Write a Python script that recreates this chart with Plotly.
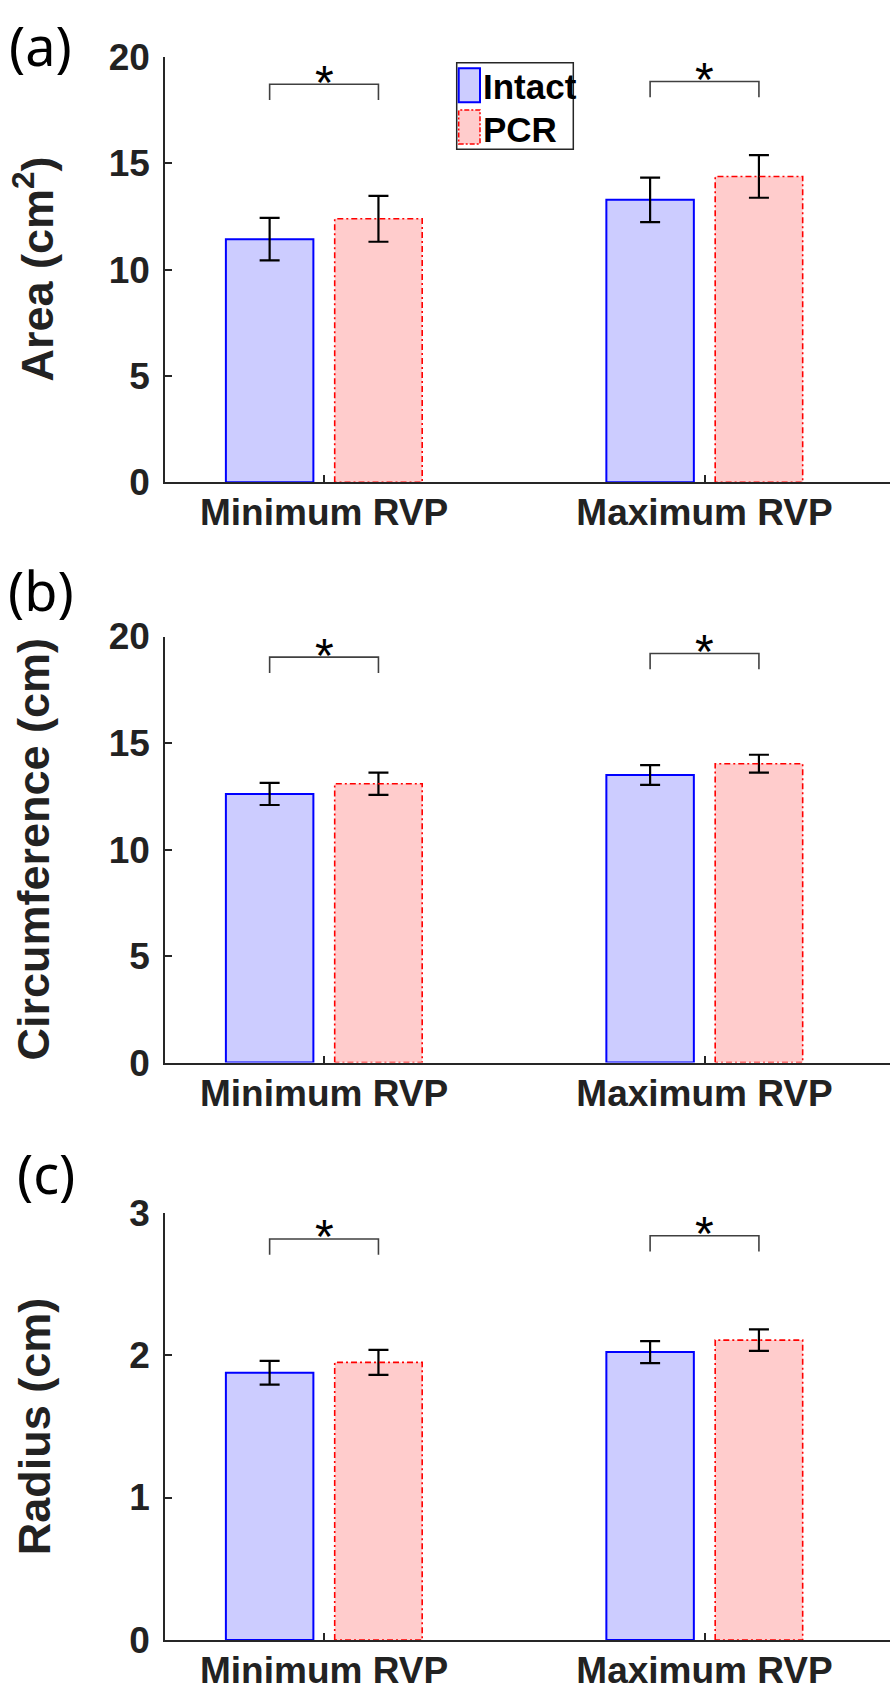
import numpy as np
import plotly.graph_objects as go

# ---------------- data ----------------
categories = ["Minimum RVP", "Maximum RVP"]
groups = ["Intact", "PCR"]

area_intact = [11.43, 13.28]
area_intact_err = [1.00, 1.05]
area_pcr = [12.39, 14.38]
area_pcr_err = [1.08, 1.00]

circ_intact = [12.61, 13.50]
circ_intact_err = [0.52, 0.46]
circ_pcr = [13.09, 14.03]
circ_pcr_err = [0.52, 0.42]

radius_intact = [1.876, 2.021]
radius_intact_err = [0.083, 0.077]
radius_pcr = [1.949, 2.105]
radius_pcr_err = [0.088, 0.075]

area_sig = [18.72, 18.85]
circ_sig = [19.03, 19.20]
radius_sig = [2.815, 2.838]

y_titles = ["Area (cm<sup>2</sup>)", "Circumference (cm)", "Radius (cm)"]
y_max = [20, 20, 3]
y_dtick = [5, 5, 1]
panel_labels = ["(a)", "(b)", "(c)"]

# ---------------- styling / layout ----------------
W, H = 890, 1692
PLOT_LEFT = 165
PLOT_TOPS = [57, 636.5, 1212.6]
PLOT_BOTTOMS = [482.2, 1062.6, 1640]
LABEL_POS = [(40, 45), (41, 590), (46, 1173)]
YTITLE_X = 34

BARGAP = 0.428
GROUPGAP = 0.196
slot = (1 - BARGAP) / 2
OFF = slot / 2
BW = slot * (1 - GROUPGAP)

FONT = "Liberation Sans, Arial, sans-serif"
AXC = "#262626"
INTACT_FILL = "#CCCCFF"
INTACT_EDGE = "#0000FF"
PCR_FILL = "#FFCCCC"
PCR_EDGE = "#FF0000"


def px(x):
    return x / W


def py(y):
    return 1 - y / H


panels = [
    (area_intact, area_intact_err, area_pcr, area_pcr_err, area_sig),
    (circ_intact, circ_intact_err, circ_pcr, circ_pcr_err, circ_sig),
    (radius_intact, radius_intact_err, radius_pcr, radius_pcr_err, radius_sig),
]

fig = go.Figure()
xpos = np.arange(len(categories))
shapes = []
annotations = []

for k, (iv, ie, pv, pe, sig) in enumerate(panels):
    xa = "x" if k == 0 else f"x{k+1}"
    ya = "y" if k == 0 else f"y{k+1}"
    err_style = dict(type="data", visible=True, color="black", thickness=2.2, width=10)
    fig.add_trace(go.Bar(
        x=xpos, y=iv, name=groups[0], xaxis=xa, yaxis=ya,
        marker=dict(color=INTACT_FILL, line=dict(color=INTACT_EDGE, width=2)),
        error_y=dict(array=ie, **err_style), showlegend=False,
    ))
    fig.add_trace(go.Bar(
        x=xpos, y=pv, name=groups[1], xaxis=xa, yaxis=ya,
        marker=dict(color=PCR_FILL, line=dict(width=0)),
        error_y=dict(array=pe, **err_style), showlegend=False,
    ))
    # dashed outline for PCR bars
    ox, oy = [], []
    for i, v in zip(xpos, pv):
        c = i + OFF
        l, r = c - BW / 2, c + BW / 2
        ox += [l, l, r, r, l, None]
        oy += [0, v, v, 0, 0, None]
    fig.add_trace(go.Scatter(
        x=ox, y=oy, mode="lines", xaxis=xa, yaxis=ya, hoverinfo="skip",
        line=dict(color=PCR_EDGE, width=1.6, dash="6px,3px,2px,3px"),
        showlegend=False,
    ))
    # significance brackets
    leg = 0.037 * y_max[k]
    bx, by = [], []
    for i, s in zip(xpos, sig):
        bx += [i - OFF, i - OFF, i + OFF, i + OFF, None]
        by += [s - leg, s, s, s - leg, None]
        annotations.append(dict(
            x=i, y=s, xref=xa, yref=ya, text="*", showarrow=False,
            font=dict(family=FONT, size=48, color="black"),
            yanchor="middle", xanchor="center", yshift=2,
        ))
    fig.add_trace(go.Scatter(
        x=bx, y=by, mode="lines", xaxis=xa, yaxis=ya, hoverinfo="skip",
        line=dict(color="#404040", width=1.6), showlegend=False,
    ))

    ydom = [py(PLOT_BOTTOMS[k]), py(PLOT_TOPS[k])]
    axis_common = dict(
        showline=True, linecolor=AXC, linewidth=1.5, showgrid=False,
        zeroline=False, ticks="inside", ticklen=7, tickwidth=1.5, tickcolor=AXC,
        tickfont=dict(family=FONT, size=37, color="#222222", weight="bold"),
        automargin=False,
    )
    fig.layout[("xaxis" if k == 0 else f"xaxis{k+1}")] = dict(
        domain=[px(PLOT_LEFT), 1.0], anchor=ya, range=[-0.418, 1.4875],
        tickmode="array", tickvals=list(xpos), ticktext=categories,
        ticklabelstandoff=-3, **axis_common,
    )
    fig.layout[("yaxis" if k == 0 else f"yaxis{k+1}")] = dict(
        domain=ydom, anchor=xa, range=[0, y_max[k]], dtick=y_dtick[k], tick0=0,
        ticklabelstandoff=6, **axis_common,
    )
    annotations.append(dict(
        x=px(YTITLE_X), y=(ydom[0] + ydom[1]) / 2, xref="paper", yref="paper",
        text=f"<b>{y_titles[k]}</b>", textangle=-90, showarrow=False,
        font=dict(family=FONT, size=45, color="#222222"),
        xanchor="center", yanchor="middle",
    ))
    lx, ly = LABEL_POS[k]
    annotations.append(dict(
        x=px(lx), y=py(ly), xref="paper", yref="paper", text=panel_labels[k],
        showarrow=False, font=dict(family="Noto Sans, Open Sans, sans-serif", size=54, color="black"),
        xanchor="center", yanchor="middle",
    ))

# ---------------- custom legend (panel a) ----------------
shapes.append(dict(type="rect", xref="paper", yref="paper",
                   x0=px(456.7), x1=px(573.3), y0=py(149.3), y1=py(62.7),
                   line=dict(color=AXC, width=1.5), fillcolor="white", layer="above"))
shapes.append(dict(type="rect", xref="paper", yref="paper",
                   x0=px(458.7), x1=px(480), y0=py(102.3), y1=py(68.3),
                   line=dict(color=INTACT_EDGE, width=2), fillcolor=INTACT_FILL, layer="above"))
shapes.append(dict(type="rect", xref="paper", yref="paper",
                   x0=px(458.7), x1=px(480), y0=py(144), y1=py(110),
                   line=dict(color=PCR_EDGE, width=1.5, dash="5px,2px,2px,2px"),
                   fillcolor=PCR_FILL, layer="above"))
for name, yc in zip(groups, [86, 129]):
    annotations.append(dict(
        x=px(481), y=py(yc), xref="paper", yref="paper", text=f"<b>{name}</b>",
        showarrow=False, font=dict(family=FONT, size=35, color="black"),
        xanchor="left", yanchor="middle",
    ))

fig.update_layout(
    width=W, height=H, margin=dict(l=0, r=0, t=0, b=0, autoexpand=False),
    paper_bgcolor="white", plot_bgcolor="white",
    barmode="group", bargap=BARGAP, bargroupgap=GROUPGAP,
    shapes=shapes, annotations=annotations, showlegend=False,
)

fig.write_html("out.html")
